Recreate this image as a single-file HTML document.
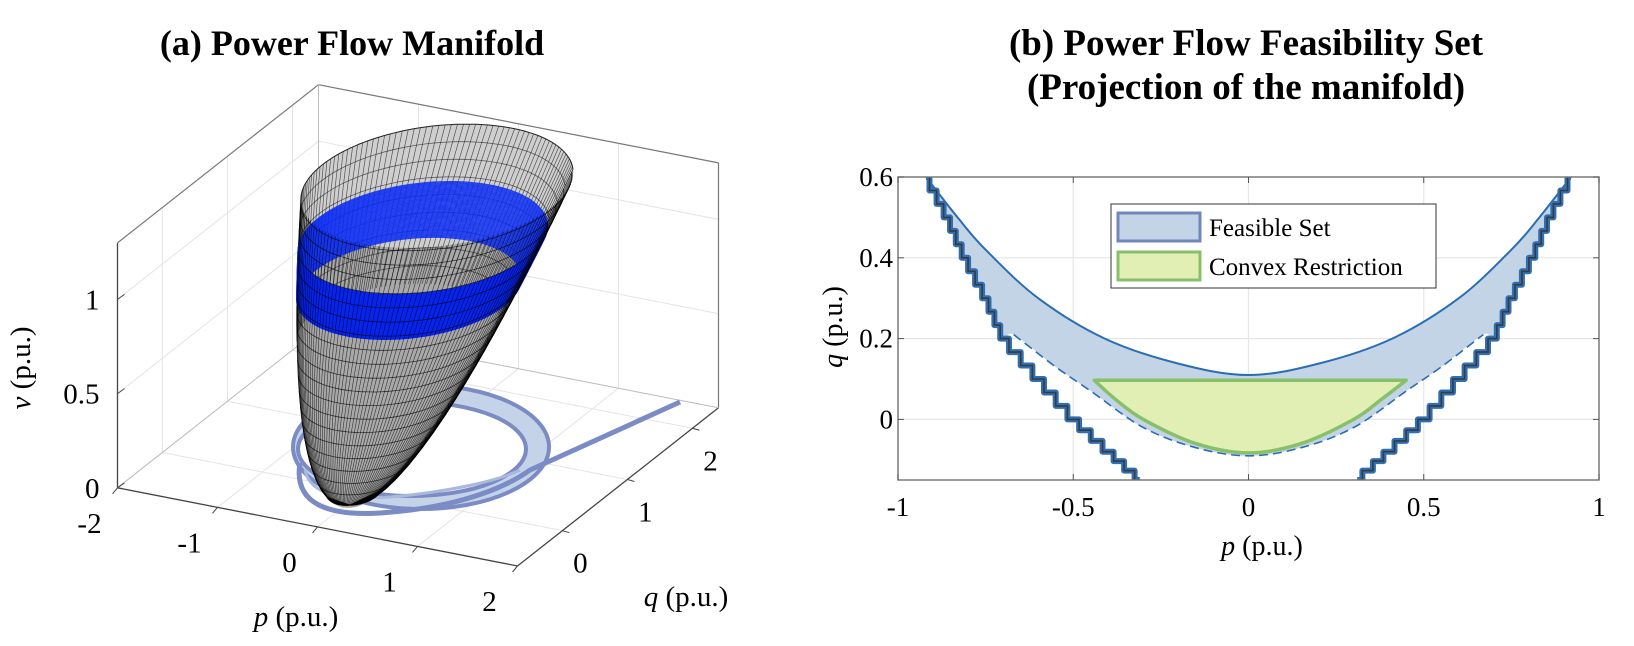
<!DOCTYPE html>
<html><head><meta charset="utf-8"><style>
body{margin:0;background:#fff;}
svg{display:block;font-family:"Liberation Serif",serif;}
</style></head><body>
<svg id="fig" width="1634" height="646" viewBox="0 0 1634 646">
<text x="352" y="55" text-anchor="middle" font-size="36" font-weight="bold">(a) Power Flow Manifold</text>
<text x="1246" y="55" text-anchor="middle" font-size="37" font-weight="bold">(b) Power Flow Feasibility Set</text>
<text x="1246" y="99" text-anchor="middle" font-size="37" font-weight="bold">(Projection of the manifold)</text>
<g id="left"></g>
<g id="right"></g>
</svg>
<script>
// ---------- Right chart data ----------
const upperP=[-0.92,-0.83,-0.75,-0.6,-0.41,-0.2,0,0.2,0.41,0.6,0.75,0.83,0.92];
const upperQ=[0.6,0.5,0.42,0.3,0.2,0.138,0.11,0.138,0.2,0.3,0.42,0.5,0.6];
const lowerP=[-0.67,-0.55,-0.45,-0.3,-0.15,0,0.15,0.3,0.45,0.55,0.67];
const lowerQ=[0.21,0.13,0.07,-0.02,-0.07,-0.09,-0.07,-0.02,0.07,0.13,0.21];
const stairP=[-0.92,-0.86,-0.81,-0.75,-0.7,-0.6,-0.5,-0.4,-0.31];
const stairQ=[0.6,0.5,0.4,0.3,0.2,0.1,0,-0.08,-0.15];
const greenP=[-0.44,-0.38,-0.3,-0.15,0,0.15,0.3,0.38,0.45];
const greenQ=[0.097,0.05,0.0,-0.06,-0.083,-0.06,0.0,0.05,0.097];
const xTicks=[-1,-0.5,0,0.5,1];
const xTickLabels=["-1","-0.5","0","0.5","1"];
const yTicks=[0,0.2,0.4,0.6];
const yTickLabels=["0","0.2","0.4","0.6"];
const legendLabels=["Feasible Set","Convex Restriction"];
// ---------- Left chart data ----------
const vTicks=[0,0.5,1];
const vTickLabels=["0","0.5","1"];
const pTicks3=[-2,-1,0,1,2];
const pTickLabels3=["-2","-1","0","1","2"];
const qTicks3=[0,1,2];
const qTickLabels3=["0","1","2"];

const NS="http://www.w3.org/2000/svg";
function mk(parent,tag,attrs,text){const e=document.createElementNS(NS,tag);for(const k in attrs)e.setAttribute(k,attrs[k]);if(text!==undefined)e.textContent=text;parent.appendChild(e);return e;}
function smooth(pts){let d="M"+pts[0][0]+","+pts[0][1];for(let i=0;i<pts.length-1;i++){const p0=pts[Math.max(0,i-1)],p1=pts[i],p2=pts[i+1],p3=pts[Math.min(pts.length-1,i+2)];const c1=[p1[0]+(p2[0]-p0[0])/6,p1[1]+(p2[1]-p0[1])/6],c2=[p2[0]-(p3[0]-p1[0])/6,p2[1]-(p3[1]-p1[1])/6];d+=" C"+c1[0].toFixed(1)+","+c1[1].toFixed(1)+" "+c2[0].toFixed(1)+","+c2[1].toFixed(1)+" "+p2[0].toFixed(1)+","+p2[1].toFixed(1);}return d;}

// ===== Right chart =====
const RG=document.getElementById('right');
const L0=898,R0=1599,T0=177,B0=480;
const X=p=>L0+(p+1)/2*(R0-L0);
const Y=q=>T0+(0.6-q)/0.75*(B0-T0);
mk(RG,'defs',{}).innerHTML='<clipPath id="clipR"><rect x="'+L0+'" y="'+T0+'" width="'+(R0-L0)+'" height="'+(B0-T0)+'"/></clipPath>';
[-0.5,0,0.5].forEach(v=>{const g=mk(RG,'line',{x1:X(v),x2:X(v),y1:T0,y2:B0,stroke:'#e6e6e6','stroke-width':1.2});});
[0,0.2,0.4].forEach(v=>{const g=mk(RG,'line',{x1:L0,x2:R0,y1:Y(v),y2:Y(v),stroke:'#e6e6e6','stroke-width':1.2});});
const CR=mk(RG,'g',{'clip-path':'url(#clipR)'});
const up=upperP.map((p,i)=>[X(p),Y(upperQ[i])]);
const lo=lowerP.map((p,i)=>[X(p),Y(lowerQ[i])]);
const stL=stairP.map((p,i)=>[X(p),Y(stairQ[i])]);
const stR=stairP.map((p,i)=>[X(-p),Y(stairQ[i])]);
let poly=up.concat(stR.slice(1,5)).concat(lo.slice().reverse()).concat(stL.slice(1,5).reverse());
const ff=mk(CR,'path',{d:smooth(poly)+'Z',fill:'#c3d4e7',stroke:'none'});

const ul=mk(CR,'path',{d:smooth(up),fill:'none',stroke:'#2a6db3','stroke-width':2});

const dl=mk(CR,'path',{d:smooth(lo),fill:'none',stroke:'#2a6db3','stroke-width':1.6,'stroke-dasharray':'9 5'});

function stairPath(pts){let d="M"+pts[0][0]+","+pts[0][1];for(let i=0;i<pts.length-1;i++){const a=pts[i],b=pts[i+1];const n=3;for(let k=1;k<=n;k++){const x=a[0]+(b[0]-a[0])*k/n,y=a[1]+(b[1]-a[1])*k/n;const px=a[0]+(b[0]-a[0])*(k-0.5)/n;d+=" L"+px.toFixed(1)+","+(a[1]+(b[1]-a[1])*(k-1)/n).toFixed(1)+" L"+px.toFixed(1)+","+y.toFixed(1)+" L"+x.toFixed(1)+","+y.toFixed(1);}}return d;}
[stL,stR].forEach((s,i)=>{const a=mk(CR,'path',{d:stairPath(s),fill:'none',stroke:'#2e6fb5','stroke-width':6,'stroke-linejoin':'round'});mk(CR,'path',{d:stairPath(s),fill:'none',stroke:'#3a3a3a','stroke-width':1.6});});
const gp=greenP.map((p,i)=>[X(p),Y(greenQ[i])]);
const gr=mk(CR,'path',{d:smooth(gp)+' Z',fill:'#e1efb4',stroke:'#88c06a','stroke-width':3.5,'stroke-linejoin':'round'});

const fr=mk(RG,'rect',{x:L0,y:T0,width:R0-L0,height:B0-T0,fill:'none',stroke:'#7a7a7a','stroke-width':1.5});

xTicks.forEach((v,i)=>{mk(RG,'line',{x1:X(v),x2:X(v),y1:B0,y2:B0-6,stroke:'#555'});mk(RG,'line',{x1:X(v),x2:X(v),y1:T0,y2:T0+6,stroke:'#555'});const t=mk(RG,'text',{x:X(v),y:B0+36,'text-anchor':'middle','font-size':27},xTickLabels[i]);});
yTicks.forEach((v,i)=>{mk(RG,'line',{x1:L0,x2:L0+6,y1:Y(v),y2:Y(v),stroke:'#555'});mk(RG,'line',{x1:R0,x2:R0-6,y1:Y(v),y2:Y(v),stroke:'#555'});const t=mk(RG,'text',{x:L0-5,y:Y(v)+9,'text-anchor':'end','font-size':27},yTickLabels[i]);});
const xl=mk(RG,'text',{x:1262,y:555,'text-anchor':'middle','font-size':28},'');xl.innerHTML='<tspan font-style="italic">p</tspan> (p.u.)';
const yl=mk(RG,'text',{x:0,y:0,'text-anchor':'middle','font-size':28,transform:'translate(842,327) rotate(-90)'},'');yl.innerHTML='<tspan font-style="italic">q</tspan> (p.u.)';
const lg=mk(RG,'g',{});
mk(lg,'rect',{x:1111,y:204,width:325,height:84,fill:'#fff',stroke:'#333','stroke-width':1});
mk(lg,'rect',{x:1118,y:213,width:82,height:28,fill:'#c3d4e7',stroke:'#6f86bf','stroke-width':3});
mk(lg,'rect',{x:1118,y:252,width:82,height:28,fill:'#e1efb4',stroke:'#88c06a','stroke-width':3});
const l1=mk(lg,'text',{x:1209,y:236,'font-size':25},legendLabels[0]);
const l2=mk(lg,'text',{x:1209,y:275,'font-size':25},legendLabels[1]);

// ===== Left 3D chart =====
const LG=document.getElementById('left');
function P3(p,q,v){return [117.5+(p+2)*100+(q+0.69)*65.05, 487.8+(p+2)*19.55-(q+0.69)*51.2-v*188.4];}
const pMin=-2,pMax=2,qMin=-0.69,qMax=2.4,vMax=1.3;
function line3(a,b,st,w,nm){const A=P3(...a),B=P3(...b);const e=mk(LG,'line',{x1:A[0],y1:A[1],x2:B[0],y2:B[1],stroke:st,'stroke-width':w});if(nm){}return e;}
const gridC='#e4e4e4';
vTicks.slice(1).forEach(v=>{line3([pMin,qMin,v],[pMin,qMax,v],gridC,1);line3([pMin,qMax,v],[pMax,qMax,v],gridC,1);});
qTicks3.forEach(q=>{line3([pMin,q,0],[pMin,q,vMax],gridC,1);line3([pMin,q,0],[pMax,q,0],gridC,1);});
pTicks3.slice(1,4).forEach(p=>{line3([p,qMax,0],[p,qMax,vMax],gridC,1);line3([p,qMin,0],[p,qMax,0],gridC,1);});
const ec='#777';
line3([pMin,qMin,0],[pMin,qMin,vMax],'#444',1.3,'v-axis-line');
line3([pMin,qMin,0],[pMax,qMin,0],'#444',1.3,'p-axis-line');
line3([pMax,qMin,0],[pMax,qMax,0],'#444',1.3,'q-axis-line');
line3([pMin,qMin,vMax],[pMin,qMax,vMax],ec,1.2);
line3([pMin,qMax,vMax],[pMax,qMax,vMax],ec,1.2);
line3([pMax,qMax,0],[pMax,qMax,vMax],ec,1.2);
line3([pMin,qMax,0],[pMin,qMax,vMax],'#bbb',1);
line3([pMin,qMin,0],[pMin,qMax,0],'#bbb',1);
line3([pMin,qMax,0],[pMax,qMax,0],'#bbb',1);
vTicks.forEach((v,i)=>{const a=P3(pMin,qMin,v);mk(LG,'line',{x1:a[0],y1:a[1],x2:a[0]+7,y2:a[1]-5,stroke:'#444'});const t=mk(LG,'text',{x:a[0]-18,y:a[1]+10,'text-anchor':'end','font-size':29},vTickLabels[i]);});
pTicks3.forEach((p,i)=>{const a=P3(p,qMin,0);mk(LG,'line',{x1:a[0],y1:a[1],x2:a[0]-5,y2:a[1]+6,stroke:'#444'});const t=mk(LG,'text',{x:a[0]-28,y:a[1]+45,'text-anchor':'middle','font-size':29},pTickLabels3[i]);});
qTicks3.forEach((q,i)=>{const a=P3(pMax,q,0);mk(LG,'line',{x1:a[0],y1:a[1],x2:a[0]+7,y2:a[1]+2,stroke:'#444'});const t=mk(LG,'text',{x:a[0]+18,y:a[1]+42,'text-anchor':'middle','font-size':29},qTickLabels3[i]);});
const vl=mk(LG,'text',{'text-anchor':'middle','font-size':29,transform:'translate(30,368) rotate(-90)'},'');vl.innerHTML='<tspan font-style="italic">v</tspan> (p.u.)';
const pl=mk(LG,'text',{x:296,y:626,'text-anchor':'middle','font-size':29},'');pl.innerHTML='<tspan font-style="italic">p</tspan> (p.u.)';
const ql=mk(LG,'text',{x:686,y:606,'text-anchor':'middle','font-size':29},'');ql.innerHTML='<tspan font-style="italic">q</tspan> (p.u.)';

// floor projection
const sh=mk(LG,'g',{});
mk(sh,'ellipse',{cx:421,cy:447,rx:128,ry:62,fill:'#c5d3e8',stroke:'#7b8cc4','stroke-width':4});
mk(sh,'ellipse',{cx:412,cy:449,rx:114,ry:47,fill:'#fff',stroke:'#7b8cc4','stroke-width':4});
mk(sh,'path',{d:'M300,463 C293,505 330,516 380,513 C440,509 495,495 530,470 L680,402',fill:'none',stroke:'#7b8cc4','stroke-width':5});
mk(sh,'path',{d:'M305,470 C310,495 340,500 390,497 C450,492 500,480 520,470',fill:'none',stroke:'#a9b8dc','stroke-width':3});

// surface
const surf=mk(LG,'g',{});
const tipC=[350,505],topC=[437,186],RX=137,RY=60,tilt=-7*Math.PI/180;
function ring(s,th){const cx=tipC[0]+(topC[0]-tipC[0])*s,cy=tipC[1]+(topC[1]-tipC[1])*s;const rx=RX*Math.sqrt(s),ry=RY*Math.sqrt(s);const x=rx*Math.cos(th),y=ry*Math.sin(th);return [cx+x*Math.cos(tilt)-y*Math.sin(tilt),cy+x*Math.sin(tilt)+y*Math.cos(tilt)];}
function ringPath(s,a0,a1,n){let d='';for(let k=0;k<=n;k++){const p=ring(s,a0+(a1-a0)*k/n);d+=(k?' L':'M')+p[0].toFixed(1)+','+p[1].toFixed(1);}return d;}
for(let s=0.005;s<=1.0001;s+=0.01){mk(surf,'path',{d:ringPath(s,0,2*Math.PI,48)+'Z',fill:'#a9a9a9',stroke:'none'});}
mk(surf,'path',{d:ringPath(1,0,2*Math.PI,80)+'Z',fill:'#cfcfcf',stroke:'none'});
for(let k=0;k<70;k++){const th=Math.PI+Math.PI*k/69;let d='';for(let j=0;j<=10;j++){const s=0.55+0.45*j/10;const p=ring(s,th);d+=(j?' L':'M')+p[0].toFixed(1)+','+p[1].toFixed(1);}mk(surf,'path',{d:d,fill:'none',stroke:'#000','stroke-width':0.7,opacity:0.6});}
for(let s=0.6;s<1;s+=0.05){mk(surf,'path',{d:ringPath(s,Math.PI,2*Math.PI,40),fill:'none',stroke:'#111','stroke-width':0.8,opacity:0.6});}
for(let s=0.68;s<=0.84;s+=0.004){mk(surf,'path',{d:ringPath(s,Math.PI,2*Math.PI,72),fill:'none',stroke:'#0a2cf5','stroke-width':1.6,opacity:0.85});}
for(let s=0.68;s<=0.84;s+=0.004){mk(surf,'path',{d:ringPath(s,0,Math.PI,72),fill:'none',stroke:'#0624f0','stroke-width':1.8});}
for(let k=0;k<80;k++){const th=Math.PI*k/79;let d='';for(let j=0;j<=30;j++){const s=j/30;const p=ring(s,th);d+=(j?' L':'M')+p[0].toFixed(1)+','+p[1].toFixed(1);}mk(surf,'path',{d:d,fill:'none',stroke:'#000','stroke-width':0.6,opacity:0.7});}
for(let s=0.04;s<1;s+=0.05){mk(surf,'path',{d:ringPath(s,0,Math.PI,40),fill:'none',stroke:'#000','stroke-width':0.8,opacity:0.7});}
mk(surf,'path',{d:ringPath(1,Math.PI,2*Math.PI,80),fill:'none',stroke:'#222','stroke-width':1});
</script>
</body></html>
